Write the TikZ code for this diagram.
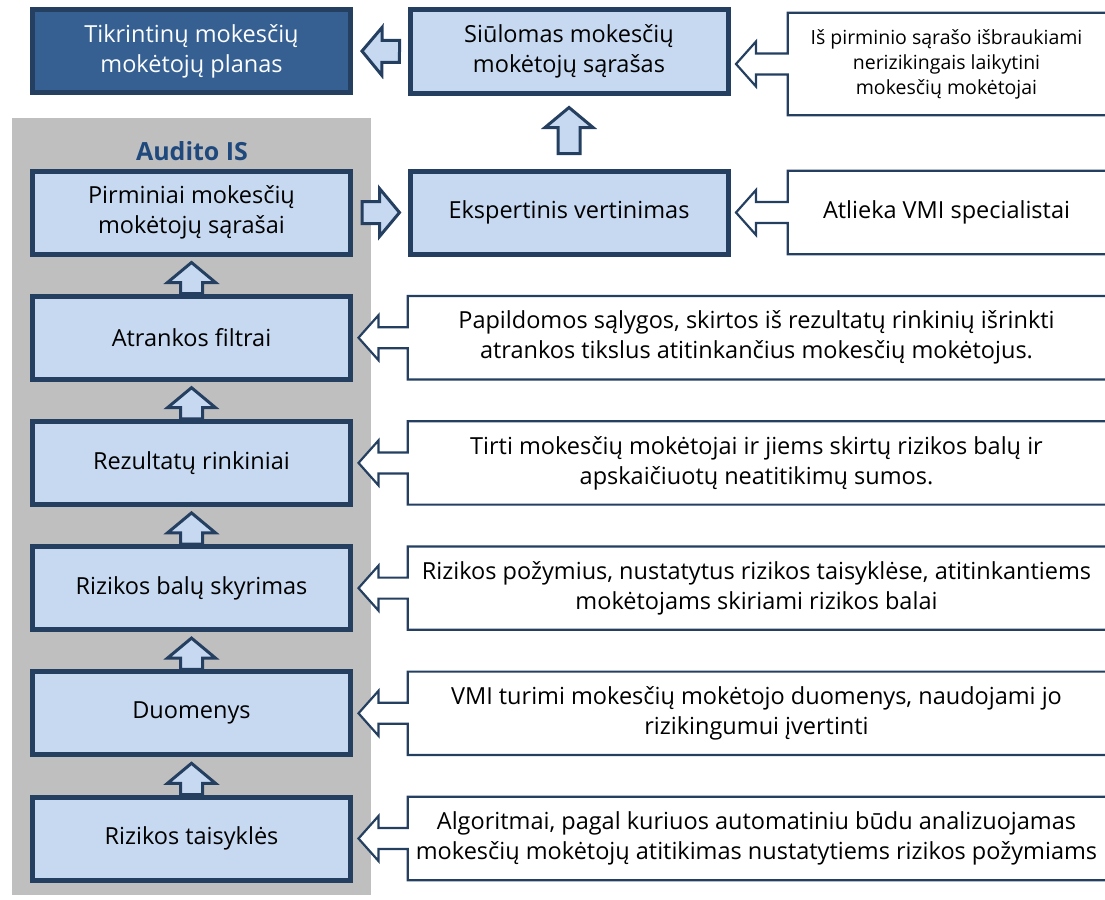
\documentclass[tikz,border=0pt]{standalone}
\usepackage{fontspec}
\setmainfont{Open Sans}
\usetikzlibrary{calc}

\definecolor{boxfill}{HTML}{C6D9F1}
\definecolor{navy}{HTML}{243F60}
\definecolor{planfill}{HTML}{376092}
\definecolor{panelgray}{HTML}{BFBFBF}
\definecolor{titleblue}{HTML}{1F497D}

\tikzset{
  flowbox/.style={draw=navy, line width=5pt, fill=boxfill, minimum width=318pt,
    minimum height=83pt, inner sep=0pt, align=center, font=\fontsize{23.5}{30}\selectfont},
  planbox/.style={flowbox, fill=planfill, text=white!94!boxfill},
  blockarr/.style={draw=navy, line width=3pt, fill=boxfill, line join=miter},
  sidenote/.style={minimum width=317pt, inner sep=0pt, align=center},
  rownote/.style={minimum width=697pt, minimum height=83pt, inner sep=0pt, align=center,
    font=\fontsize{23.5}{30}\selectfont},
  callline/.style={draw=navy, line width=2.2pt, line join=miter}
}

% block arrow: from, to, gap at start, gap at end
\newcommand{\blockarrow}[4]{%
  \coordinate (ba-s) at ($(#1)!#3!(#2)$);
  \coordinate (ba-e) at ($(#2)!#4!(#1)$);
  \coordinate (ba-h) at ($(ba-e)!20pt!(ba-s)$);
  \draw[blockarr] ($(ba-s)!11pt!90:(ba-e)$) -- ($(ba-h)!11pt!90:(ba-e)$)
    -- ($(ba-h)!24pt!90:(ba-e)$) -- (ba-e) -- ($(ba-h)!24pt!-90:(ba-e)$)
    -- ($(ba-h)!11pt!-90:(ba-e)$) -- ($(ba-s)!11pt!-90:(ba-e)$) -- cycle;
}

% callout outline: note node, box it points to
\newcommand{\callarrow}[2]{%
  \coordinate (tip) at ($(#2.east |- #1.west)+(5.5,0)$);
  \fill[white] ($(#1.west)+(1,-10.5)$) -- ($(tip)+(20,-10.5)$) -- ($(tip)+(20,-22.5)$)
    -- (tip) -- ($(tip)+(20,22.5)$) -- ($(tip)+(20,10.5)$) -- ($(#1.west)+(1,10.5)$) -- cycle;
  \draw[callline] (#1.north east) -- (#1.north west) -- ($(#1.west)+(0,-10.5)$)
    -- ($(tip)+(20,-10.5)$) -- ($(tip)+(20,-22.5)$) -- (tip) -- ($(tip)+(20,22.5)$)
    -- ($(tip)+(20,10.5)$) -- ($(#1.west)+(0,10.5)$) -- (#1.south west) -- (#1.south east);
}

\begin{document}
\begin{tikzpicture}[x=1pt, y=-1pt]
\useasboundingbox (0,0) rectangle (1105,899);
\fill[panelgray] (12,118) rectangle (371,895);
\node[font=\bfseries\fontsize{25}{30}\selectfont, text=titleblue] (title) at (192,151) {Audito IS};

\node[planbox] (plan) at (191.5,51) {Tikrintinų mokesčių\\mokėtojų planas};
\node[flowbox] (siul) at (569,51.5) {Siūlomas mokesčių\\mokėtojų sąrašas};
\node[flowbox] (eksp) at (569,212.5) {Ekspertinis vertinimas};

\foreach \name/\k/\txt in {pirm/0/{Pirminiai mokesčių\\mokėtojų sąrašai}, atr/1/{Atrankos filtrai},
    rez/2/{Rezultatų rinkiniai}, bal/3/{Rizikos balų skyrimas}, duom/4/{Duomenys},
    taisy/5/{Rizikos taisyklės}}
  \node[flowbox] (\name) at (191.5,212.5+125.2*\k) {\txt};

\foreach \lo/\up in {atr/pirm, rez/atr, bal/rez, duom/bal, taisy/duom}
  \blockarrow{\lo.north}{\up.south}{0pt}{6pt};
\blockarrow{siul.west}{plan.east}{8pt}{9pt}
\blockarrow{pirm.east}{eksp.west}{9pt}{8pt}
\blockarrow{eksp.north}{siul.south}{15pt}{12pt}

\node[sidenote, minimum height=102pt, font=\fontsize{19.5}{25}\selectfont] (n1) at (946.5,64)
  {Iš pirminio sąrašo išbraukiami\\nerizikingais laikytini\\mokesčių mokėtojai};
\node[sidenote, minimum height=83pt, font=\fontsize{23.5}{30}\selectfont] (n2) at (946.5,212.5)
  {Atlieka VMI specialistai};
\callarrow{n1}{siul}
\callarrow{n2}{eksp}

\node[rownote] (n3) at (756.5,337.7) {Papildomos sąlygos, skirtos iš rezultatų rinkinių išrinkti\\atrankos tikslus atitinkančius mokesčių mokėtojus.};
\node[rownote] (n4) at (756.5,462.9) {Tirti mokesčių mokėtojai ir jiems skirtų rizikos balų ir\\apskaičiuotų neatitikimų sumos.};
\node[rownote] (n5) at (756.5,588.1) {Rizikos požymius, nustatytus rizikos taisyklėse, atitinkantiems\\mokėtojams skiriami rizikos balai};
\node[rownote] (n6) at (756.5,713.3) {VMI turimi mokesčių mokėtojo duomenys, naudojami jo\\rizikingumui įvertinti};
\node[rownote] (n7) at (756.5,838.5) {Algoritmai, pagal kuriuos automatiniu būdu analizuojamas\\mokesčių mokėtojų atitikimas nustatytiems rizikos požymiams};
\foreach \n/\b in {n3/atr, n4/rez, n5/bal, n6/duom, n7/taisy}
  \callarrow{\n}{\b};
\end{tikzpicture}
\end{document}
